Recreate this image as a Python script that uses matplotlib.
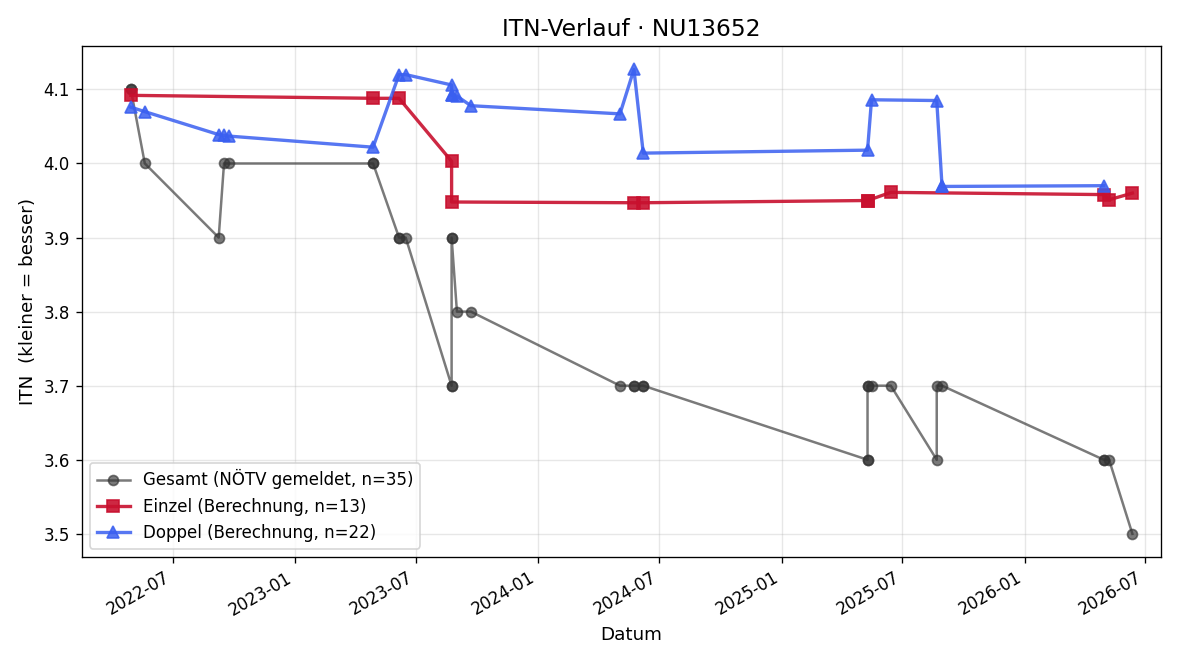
import matplotlib
matplotlib.use("Agg")
import matplotlib.pyplot as plt
import matplotlib.dates as mdates
import pandas as pd

# Gesamt (NÖTV gemeldet)
gesamt_dates = [
    "2022-04-29", "2022-04-29", "2022-05-20", "2022-09-08", "2022-09-16", "2022-09-23",
    "2023-04-28", "2023-04-28", "2023-06-06", "2023-06-06", "2023-06-16",
    "2023-08-24", "2023-08-24", "2023-08-24", "2023-08-24", "2023-09-01", "2023-09-22",
    "2024-05-03", "2024-05-24", "2024-05-24", "2024-06-07", "2024-06-07",
    "2025-05-10", "2025-05-10", "2025-05-10", "2025-05-10", "2025-05-16", "2025-06-14",
    "2025-08-22", "2025-08-22", "2025-08-30",
    "2026-04-30", "2026-04-30", "2026-05-08", "2026-06-12",
]
gesamt_itn = [
    4.1, 4.1, 4.0, 3.9, 4.0, 4.0,
    4.0, 4.0, 3.9, 3.9, 3.9,
    3.7, 3.7, 3.9, 3.9, 3.8, 3.8,
    3.7, 3.7, 3.7, 3.7, 3.7,
    3.6, 3.6, 3.7, 3.7, 3.7, 3.7,
    3.6, 3.7, 3.7,
    3.6, 3.6, 3.6, 3.5,
]

# Einzel (Berechnung)
einzel_dates = [
    "2022-04-29", "2023-04-28", "2023-06-06", "2023-08-24", "2023-08-24",
    "2024-05-24", "2024-06-07", "2025-05-10", "2025-05-10", "2025-06-14",
    "2026-04-30", "2026-05-08", "2026-06-12",
]
einzel_itn = [
    4.092, 4.088, 4.088, 4.003, 3.948,
    3.947, 3.947, 3.950, 3.950, 3.961,
    3.958, 3.951, 3.960,
]

# Doppel (Berechnung)
doppel_dates = [
    "2022-04-29", "2022-05-20", "2022-09-08", "2022-09-16", "2022-09-23",
    "2023-04-28", "2023-06-06", "2023-06-16", "2023-08-24", "2023-08-24", "2023-08-24",
    "2023-09-01", "2023-09-22", "2024-05-03", "2024-05-24", "2024-06-07",
    "2025-05-10", "2025-05-16", "2025-08-22", "2025-08-30", "2025-08-30", "2026-04-30",
]
doppel_itn = [
    4.076, 4.070, 4.039, 4.038, 4.037,
    4.022, 4.120, 4.120, 4.106, 4.092, 4.092,
    4.091, 4.078, 4.067, 4.127, 4.014,
    4.018, 4.086, 4.085, 3.969, 3.969, 3.970,
]

spieler = "NU13652"


def main():
    fig = plt.figure(figsize=(10, 5.5), dpi=120)
    ax = fig.add_subplot(1, 1, 1)

    ax.plot(pd.to_datetime(gesamt_dates), gesamt_itn, marker="o", markersize=6,
            linewidth=1.5, color="#333333", alpha=0.65,
            label="Gesamt (NÖTV gemeldet, n=%d)" % len(gesamt_itn))
    ax.plot(pd.to_datetime(einzel_dates), einzel_itn, marker="s", markersize=7,
            linewidth=2, color="#c8102e", alpha=0.9,
            label="Einzel (Berechnung, n=%d)" % len(einzel_itn))
    ax.plot(pd.to_datetime(doppel_dates), doppel_itn, marker="^", markersize=7,
            linewidth=2, color="#3a5ff0", alpha=0.85,
            label="Doppel (Berechnung, n=%d)" % len(doppel_itn))

    ax.set_xlim(pd.Timestamp("2022-02-14"), pd.Timestamp("2026-07-25"))
    ax.xaxis.set_major_locator(mdates.MonthLocator(bymonth=[1, 7]))
    ax.xaxis.set_major_formatter(mdates.DateFormatter("%Y-%m"))

    # title / xlabel sit a little right of the axes centre in the original
    ax.set_title("ITN-Verlauf · " + spieler, fontsize=14, x=0.509)
    ax.set_xlabel("Datum", fontsize=11, x=0.509)
    ax.set_ylabel("ITN  (kleiner = besser)", fontsize=11)
    ax.grid(alpha=0.3)
    ax.legend(loc="lower left", fontsize=10)
    fig.autofmt_xdate()

    fig.subplots_adjust(left=0.068, right=0.9675, top=0.930, bottom=0.156)
    fig.savefig("out.png", dpi=120)


if __name__ == "__main__":
    main()
